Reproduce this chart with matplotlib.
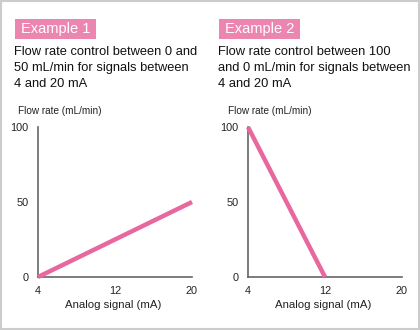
import matplotlib.pyplot as plt
from matplotlib.patches import Rectangle

plt.rcParams['font.family'] = ['Liberation Sans', 'DejaVu Sans']

# data
titles = ["Example 1", "Example 2"]
captions = [
    "Flow rate control between 0 and\n50 mL/min for signals between\n4 and 20 mA",
    "Flow rate control between 100\nand 0 mL/min for signals between\n4 and 20 mA",
]
signal_1 = [4, 20]
flow_1 = [0, 50]
signal_2 = [4, 12]
flow_2 = [100, 0]
x_ticks = [4, 12, 20]
y_ticks = [0, 50, 100]

W, H = 420, 330
pink_line = '#E8679E'
pink_box = '#EC86B1'
axis_col = '#666666'

fig = plt.figure(figsize=(W / 100, H / 100), dpi=100)


def fx(px):
    return px / W


def fy(py):
    # pixel from top -> figure fraction
    return 1 - py / H


# outer border
fig.patches.append(Rectangle((fx(0.5), fy(329)), fx(418.5), 328.5 / H,
                             transform=fig.transFigure, fill=False,
                             edgecolor='#cccccc', linewidth=1.5))

panels = [
    (0, signal_1, flow_1),
    (210, signal_2, flow_2),
]

for i, (x0, sig, flow) in enumerate(panels):
    # pink title label
    bx = x0 + 15 if i == 0 else x0 + 9
    fig.patches.append(Rectangle((fx(bx), fy(39)), fx(81), 20 / H,
                                 transform=fig.transFigure,
                                 facecolor=pink_box, edgecolor='none'))
    fig.text(fx(bx + 40.5), fy(29.5), titles[i], color='white', fontsize=10.5,
             ha='center', va='center')
    fig.text(fx(bx - 1), fy(46), captions[i], fontsize=9.3, ha='left', va='top',
             linespacing=1.45, color='#111111')

    ax = fig.add_axes([fx(x0 + 38), fy(277), fx(154), 150 / H])
    ax.plot(sig, flow, color=pink_line, linewidth=3.2, solid_capstyle='butt',
            clip_on=False, zorder=3)
    ax.set_xlim(4, 20)
    ax.set_ylim(0, 100)
    ax.set_xticks(x_ticks)
    ax.set_yticks(y_ticks)
    ax.tick_params(length=0, labelsize=7.8, colors='#222222')
    ax.tick_params(axis='x', pad=6.5)
    ax.tick_params(axis='y', pad=7)
    for s in ['top', 'right']:
        ax.spines[s].set_visible(False)
    for s in ['left', 'bottom']:
        ax.spines[s].set_color(axis_col)
        ax.spines[s].set_linewidth(1.2)
    ax.set_facecolor('none')

    fig.text(fx(x0 + 18), fy(111), "Flow rate (mL/min)", fontsize=7.2,
             ha='left', va='center', color='#222222')
    fig.text(fx(x0 + 113), fy(305), "Analog signal (mA)", fontsize=8.2,
             ha='center', va='center', color='#222222')

fig.savefig('out.png', dpi=100)
